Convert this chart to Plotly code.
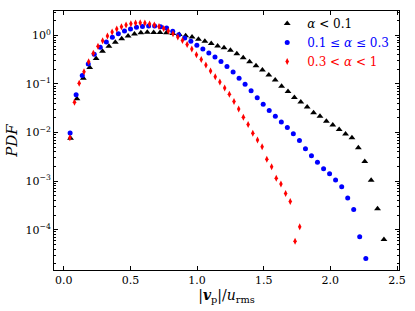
import plotly.graph_objects as go

# ---- data ----
x_low = [0.050, 0.098, 0.146, 0.194, 0.242, 0.290, 0.338, 0.386, 0.434, 0.482,
         0.530, 0.578, 0.626, 0.674, 0.722, 0.770, 0.818, 0.866, 0.914, 0.962,
         1.010, 1.058, 1.106, 1.154, 1.202, 1.250, 1.298, 1.346, 1.394, 1.442,
         1.490, 1.538, 1.586, 1.634, 1.682, 1.730, 1.778, 1.826, 1.874, 1.922,
         1.970, 2.018, 2.066, 2.114, 2.162, 2.210, 2.258, 2.306, 2.354, 2.402]
pdf_low = [0.00765, 0.0494, 0.130, 0.218, 0.333, 0.471, 0.597, 0.720, 0.853, 0.968,
           1.063, 1.13, 1.15, 1.14, 1.14, 1.13, 1.088, 1.038, 0.981, 0.923,
           0.829, 0.754, 0.674, 0.605, 0.551, 0.490, 0.415, 0.344, 0.285, 0.236,
           0.193, 0.153, 0.120, 0.0893, 0.0697, 0.0525, 0.0425, 0.0333, 0.0256, 0.0215,
           0.0170, 0.0143, 0.0115, 0.00936, 0.00776, 0.00485, 0.00254, 0.00104, 0.000268, 0.0000625]

x_mid = [0.047, 0.092, 0.138, 0.183, 0.228, 0.273, 0.319, 0.364, 0.409, 0.455,
         0.500, 0.545, 0.590, 0.636, 0.681, 0.726, 0.771, 0.817, 0.862, 0.907,
         0.953, 0.998, 1.043, 1.088, 1.134, 1.179, 1.224, 1.270, 1.315, 1.360,
         1.405, 1.451, 1.496, 1.541, 1.587, 1.632, 1.677, 1.722, 1.768, 1.813,
         1.858, 1.903, 1.949, 1.994, 2.039, 2.085, 2.130, 2.175, 2.220, 2.266]
pdf_mid = [0.00981, 0.0597, 0.148, 0.256, 0.409, 0.569, 0.730, 0.910, 1.078, 1.224,
           1.345, 1.456, 1.512, 1.548, 1.548, 1.498, 1.409, 1.207, 1.028, 0.881,
           0.754, 0.625, 0.525, 0.431, 0.356, 0.288, 0.229, 0.176, 0.130, 0.0981,
           0.0720, 0.0518, 0.0383, 0.0285, 0.0215, 0.0165, 0.0126, 0.00945, 0.00680, 0.00463,
           0.00333, 0.00244, 0.00180, 0.00141, 0.00105, 0.000765, 0.000450, 0.000260, 0.0000713, 0.0000256]

x_high = [0.045, 0.080, 0.115, 0.151, 0.186, 0.221, 0.256, 0.291, 0.327, 0.362,
          0.397, 0.432, 0.467, 0.503, 0.538, 0.573, 0.608, 0.643, 0.679, 0.714,
          0.749, 0.784, 0.819, 0.855, 0.890, 0.925, 0.960, 0.995, 1.031, 1.066,
          1.101, 1.136, 1.171, 1.207, 1.242, 1.277, 1.312, 1.347, 1.383, 1.418,
          1.453, 1.488, 1.523, 1.559, 1.594, 1.629, 1.664, 1.699, 1.735, 1.770]
pdf_high = [0.00776, 0.0421, 0.1028, 0.178, 0.285, 0.429, 0.597, 0.776, 0.968, 1.168,
            1.345, 1.498, 1.623, 1.725, 1.782, 1.808, 1.799, 1.717, 1.623, 1.512,
            1.376, 1.224, 1.073, 0.923, 0.783, 0.649, 0.525, 0.400, 0.316, 0.244,
            0.184, 0.141, 0.109, 0.0821, 0.0613, 0.0435, 0.0306, 0.0205, 0.0146, 0.00968,
            0.00697, 0.00508, 0.00281, 0.00196, 0.00114, 0.000869, 0.000558, 0.000378, 0.0000577, 0.000115]

x_tick_vals = [0.0, 0.5, 1.0, 1.5, 2.0, 2.5]
x_tick_text = ["0.0", "0.5", "1.0", "1.5", "2.0", "2.5"]
y_tick_vals = [1e0, 1e-1, 1e-2, 1e-3, 1e-4]
y_tick_text = ["10<sup>0</sup>", "10<sup>−1</sup>", "10<sup>−2</sup>", "10<sup>−3</sup>", "10<sup>−4</sup>"]

labels = [
    '<span style="color:#000000"><i>α</i> &lt; 0.1</span>',
    '<span style="color:#0000ff">0.1 ≤ <i>α</i> ≤ 0.3</span>',
    '<span style="color:#ff0000">0.3 &lt; <i>α</i> &lt; 1</span>',
]

FONT = "DejaVu Serif"

fig = go.Figure()
fig.add_trace(go.Scatter(x=x_low, y=pdf_low, mode="markers", name=labels[0],
                         marker=dict(symbol="triangle-up", size=6, color="#000000")))
fig.add_trace(go.Scatter(x=x_mid, y=pdf_mid, mode="markers", name=labels[1],
                         marker=dict(symbol="circle", size=5, color="#0000ff")))
fig.add_trace(go.Scatter(x=x_high, y=pdf_high, mode="markers", name=labels[2],
                         marker=dict(symbol="diamond-tall", size=5, color="#ff0000")))

minor_vals = [m * 10.0 ** e for e in range(-5, 1) for m in range(2, 10)]

fig.update_layout(
    width=415, height=311,
    margin=dict(l=54, r=13, t=9, b=41),
    paper_bgcolor="white", plot_bgcolor="white",
    font=dict(family=FONT, size=11, color="black"),
    showlegend=True,
    legend=dict(x=0.618, y=1.008, xanchor="left", yanchor="top",
                bgcolor="rgba(0,0,0,0)", borderwidth=0,
                font=dict(family=FONT, size=12)),
    xaxis=dict(range=[-0.074, 2.515], tickvals=x_tick_vals, ticktext=x_tick_text,
               ticks="inside", ticklen=4, tickcolor="black", mirror="allticks",
               showline=True, linecolor="black", linewidth=1, showgrid=False, zeroline=False,
               tickfont=dict(family=FONT, size=11),
               title=dict(text="|<b><i>v</i></b><sub>p</sub>|/<i>u</i><sub>rms</sub>",
                          font=dict(family=FONT, size=14), standoff=3)),
    yaxis=dict(type="log", range=[-4.83, 0.5], tickvals=y_tick_vals, ticktext=y_tick_text,
               ticks="inside", ticklen=4, tickcolor="black", mirror="allticks",
               showline=True, linecolor="black", linewidth=1, showgrid=False, zeroline=False,
               tickfont=dict(family=FONT, size=11),
               minor=dict(tickvals=minor_vals, ticks="inside", ticklen=2, tickcolor="black", showgrid=False),
               title=dict(text="<i>PDF</i>", font=dict(family=FONT, size=15), standoff=4)),
)

fig.write_html("out.html",
               config={"displayModeBar": False},
               post_script="document.body.style.margin='0';document.body.style.padding='0';")
